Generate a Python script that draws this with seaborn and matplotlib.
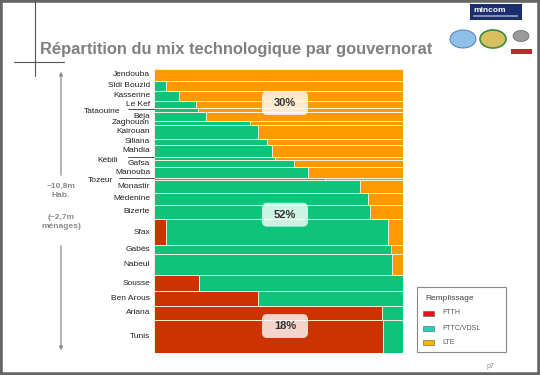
import numpy as np
import pandas as pd
import matplotlib.pyplot as plt
import matplotlib.transforms as mtransforms
from matplotlib.patches import Rectangle, FancyBboxPatch, FancyArrowPatch, Circle
from matplotlib.lines import Line2D
import seaborn as sns

# Governorates from top to bottom, with households (k, row height)
gouvernorats = ["Jendouba", "Sidi Bouzid", "Kasserine", "Le Kef", "Tataouine", "Béja",
                "Zaghouan", "Kairouan", "Siliana", "Mahdia", "Kébili", "Gafsa",
                "Manouba", "Tozeur", "Monastir", "Médenine", "Bizerte", "Sfax",
                "Gabés", "Nabeul", "Sousse", "Ben Arous", "Ariana", "Tunis"]
menages = [114, 95, 92, 72, 32, 88, 38, 133, 57, 111, 31, 64,
           105, 24, 119, 114, 141, 244, 86, 200, 152, 143, 127, 318]

# Share of each technology per governorate
ftth = [0, 0, 0, 0, 0, 0, 0, 0, 0, 0, 0, 0,
        0, 0, 0, 0, 0, 0.048, 0, 0, 0.181, 0.418, 0.915, 0.921]
fttc = [0, 0.048, 0.10, 0.17, 0.176, 0.21, 0.384, 0.417, 0.452, 0.472, 0.484, 0.562,
        0.618, 0.685, 0.827, 0.86, 0.867, 0.893, 0.952, 0.957, 0.819, 0.582, 0.085, 0.079]
lte = [1, 0.952, 0.90, 0.83, 0.824, 0.79, 0.616, 0.583, 0.548, 0.528, 0.516, 0.438,
       0.382, 0.315, 0.173, 0.14, 0.133, 0.059, 0.048, 0.043, 0, 0, 0, 0]

techs = ["FTTH", "FTTC/VDSL", "LTE"]
totals = ["18%", "52%", "30%"]
bar_colors = {"FTTH": "#cc3300", "FTTC/VDSL": "#0dc47a", "LTE": "#ff9900"}
legend_colors = {"FTTH": "#e0141a", "FTTC/VDSL": "#22d3c0", "LTE": "#f7b500"}

edges = np.concatenate([[0], np.cumsum(menages)])
centers = (edges[:-1] + edges[1:]) / 2

rows = []
for g, c, a, b, d in zip(gouvernorats, centers, ftth, fttc, lte):
    for t, v in zip(techs, (a, b, d)):
        rows.append({"gouvernorat": g, "pos": c, "tech": t, "part": v})
df = pd.DataFrame(rows)

sns.set_theme(style="white")
plt.rcParams["font.family"] = ["Liberation Sans", "DejaVu Sans"]

W, H = 540, 375
fx = lambda px: px / W
fy = lambda py: 1 - py / H

fig = plt.figure(figsize=(5.4, 3.75), dpi=100)
ax = fig.add_axes([fx(154), fy(353), 249 / W, 284 / H])

# Marimekko: stacked horizontal histogram with bin edges = cumulative households
sns.histplot(data=df, y="pos", weights="part", hue="tech", hue_order=techs[::-1],
             bins=[float(e) for e in edges], multiple="stack", palette=bar_colors, alpha=1,
             edgecolor="#f4f1de", linewidth=0.7, legend=False, ax=ax)
ax.set_xlim(0, 1)
ax.set_ylim(edges[-1], 0)
ax.set_axis_off()

# Governorate labels
trans = mtransforms.blended_transform_factory(ax.transAxes, ax.transData)
offset = {"Tataouine": (-0.134, -0.105), "Kébili": (-0.143, -0.105), "Tozeur": (-0.165, -0.14)}
for g, c in zip(gouvernorats, centers):
    if g in offset:
        tx, lx = offset[g]
        ax.plot([lx, 0], [c - 10, c - 10], transform=trans, color="#333333", lw=0.6, clip_on=False)
        ax.text(tx, c + 18, g, ha="right", va="center", fontsize=6, color="#222222", transform=trans)
    else:
        ax.text(-0.016, c, g, ha="right", va="center", fontsize=6, color="#222222", transform=trans)

# Total share boxes
box_y = {"LTE": 0.880, "FTTC/VDSL": 0.487, "FTTH": 0.095}
for t, lab in zip(techs, totals):
    ax.add_patch(FancyBboxPatch((0.526 - 0.0925, box_y[t] - 0.042), 0.185, 0.084,
                                boxstyle="round,pad=0,rounding_size=0.02", transform=ax.transAxes,
                                facecolor="white", alpha=0.8, edgecolor="none", zorder=5))
    ax.text(0.526, box_y[t], lab, ha="center", va="center", fontsize=8, fontweight="bold",
            color="#333333", transform=ax.transAxes, zorder=6)

# Title
fig.text(fx(40), fy(54), "Répartition du mix technologique par gouvernorat", fontsize=11.9,
         fontweight="bold", color="#808080", va="baseline")

# Corner lines
fig.add_artist(Line2D([fx(34.5), fx(34.5)], [fy(0), fy(76)], color="#555555", lw=0.8))
fig.add_artist(Line2D([fx(14), fx(64)], [fy(62), fy(62)], color="#555555", lw=0.8))

# Population arrow
arrow_kw = dict(arrowstyle="-|>", mutation_scale=5, color="#8a8a8a", lw=0.9)
fig.add_artist(FancyArrowPatch((fx(61), fy(178)), (fx(61), fy(69)), transform=fig.transFigure, **arrow_kw))
fig.add_artist(FancyArrowPatch((fx(61), fy(243)), (fx(61), fy(353)), transform=fig.transFigure, **arrow_kw))
fig.text(fx(61), fy(191), "~10,8m\nHab.", ha="center", va="center", fontsize=6,
         fontweight="bold", color="#8a8a8a", linespacing=1.3)
fig.text(fx(61), fy(222), "(~2,7m\nménages)", ha="center", va="center", fontsize=6,
         fontweight="bold", color="#8a8a8a", linespacing=1.3)

# Legend
fig.add_artist(Rectangle((fx(417), fy(352)), 89 / W, 65 / H, transform=fig.transFigure,
                         facecolor="white", edgecolor="#888888", lw=0.8))
fig.text(fx(425), fy(298), "Remplissage", fontsize=6, color="#444444", va="center")
for t, py in zip(techs, [313, 328, 342]):
    fig.add_artist(Rectangle((fx(423), fy(py + 2.5)), 11 / W, 5 / H, transform=fig.transFigure,
                             facecolor=legend_colors[t], edgecolor="#555555", lw=0.4))
    fig.text(fx(442), fy(py), t, fontsize=5, color="#555555", va="center")

# Logos (approximate)
fig.add_artist(Rectangle((fx(470), fy(20)), 52 / W, 16 / H, transform=fig.transFigure,
                         facecolor="#1b2f6e", edgecolor="none"))
fig.text(fx(473), fy(10), "mincom", fontsize=6, fontweight="bold", color="white", va="center")
fig.add_artist(Rectangle((fx(473), fy(17)), 45 / W, 2 / H, transform=fig.transFigure,
                         facecolor="#7f8fb8", edgecolor="none"))
fig.add_artist(Circle((fx(463), fy(39)), 13 / W, transform=fig.transFigure,
                      facecolor="#8fc0e8", edgecolor="#3a6fb0", lw=0.6))
fig.add_artist(Circle((fx(493), fy(39)), 13 / W, transform=fig.transFigure,
                      facecolor="#d8c060", edgecolor="#3c8c3c", lw=1.2))
fig.add_artist(Circle((fx(521), fy(36)), 8 / W, transform=fig.transFigure,
                      facecolor="#9a9a9a", edgecolor="#666666", lw=0.5))
fig.add_artist(Rectangle((fx(511), fy(54)), 21 / W, 5 / H, transform=fig.transFigure,
                         facecolor="#c0282d", edgecolor="none"))

# Page number
fig.text(fx(487), fy(366), "p7", fontsize=5, color="#888888", va="center")

# Slide frame
fig.add_artist(Rectangle((0, 0), 1, 1, transform=fig.transFigure, fill=False,
                         edgecolor="#666666", lw=4))

fig.savefig("out.png", dpi=100)
